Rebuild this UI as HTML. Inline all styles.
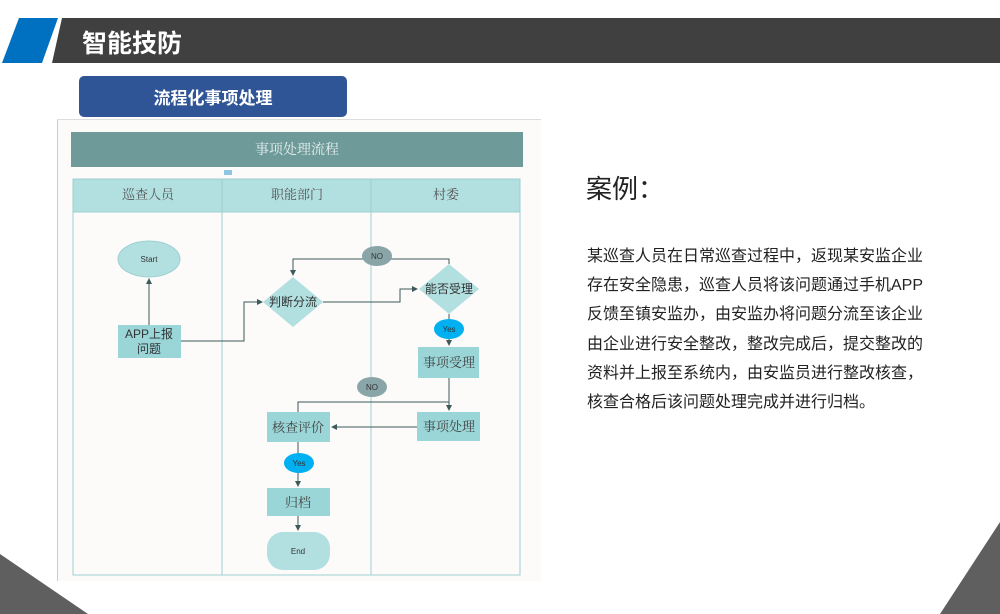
<!DOCTYPE html>
<html><head><meta charset="utf-8"><style>
html,body{margin:0;padding:0;background:#fff;}
body{width:1000px;height:614px;position:relative;overflow:hidden;font-family:"Liberation Sans","Noto Sans CJK SC",sans-serif;}
.t{position:absolute;left:587px;font-size:16px;color:#222;white-space:nowrap;line-height:29.2px;top:242px;}
</style></head><body>
<svg width="1000" height="614" style="position:absolute;left:0;top:0" xmlns="http://www.w3.org/2000/svg">
<defs><marker id="a" markerWidth="6" markerHeight="6" refX="5" refY="3" orient="auto"><path d="M0,0 L6,3 L0,6z" fill="#3d5a5a"/></marker></defs>
<polygon points="19,18 58,18 42,63 2,63" fill="#0070c0"/>
<polygon points="62,18 1000,18 1000,63 52,63" fill="#404040"/>
<text x="82" y="52" font-size="25" font-weight="bold" fill="#fff" font-family="Liberation Sans,Noto Sans CJK SC,sans-serif">智能技防</text>
<rect x="79" y="76" width="268" height="41" rx="5" fill="#2f5597"/>
<text x="213" y="104" font-size="17" font-weight="bold" fill="#fff" text-anchor="middle" font-family="Liberation Sans,Noto Sans CJK SC,sans-serif">流程化事项处理</text>
<polygon points="0,554 88,614 0,614" fill="#5f5f5f"/>
<polygon points="1000,522 1000,614 940,614" fill="#5f5f5f"/>
<rect x="57" y="119" width="484" height="462" fill="#fcfbfa"/>
<line x1="57.5" y1="119" x2="57.5" y2="581" stroke="#ccc"/>
<line x1="57" y1="119.5" x2="541" y2="119.5" stroke="#ddd"/>
<rect x="71" y="132" width="452" height="35" fill="#6e9a99"/>
<text x="297" y="154" font-size="14" fill="#e8f0f0" text-anchor="middle" font-family="Liberation Serif,Noto Serif CJK SC,serif">事项处理流程</text>
<rect x="224" y="170" width="8" height="5" fill="#8ec6e6"/>
<rect x="73" y="179" width="447" height="33" fill="#b2dfe0"/>
<rect x="73" y="179" width="447" height="396" fill="none" stroke="#9fcfd0"/>
<line x1="73" y1="212" x2="520" y2="212" stroke="#9fcfd0"/>
<line x1="222" y1="179" x2="222" y2="575" stroke="#9fcfd0"/>
<line x1="371" y1="179" x2="371" y2="575" stroke="#9fcfd0"/>
<g font-family="Liberation Serif,Noto Serif CJK SC,serif" font-size="13" fill="#555" text-anchor="middle">
<text x="148" y="199">巡查人员</text><text x="297" y="199">职能部门</text><text x="446" y="199">村委</text></g>
<g stroke="#3d5a5a" stroke-width="1" fill="none">
<line x1="149" y1="325" x2="149" y2="279" marker-end="url(#a)"/>
<polyline points="181,341 244,341 244,302 262,302" marker-end="url(#a)"/>
<polyline points="323,302 400,302 400,289 417,289" marker-end="url(#a)"/>
<polyline points="449,264 449,259 293,259 293,275" marker-end="url(#a)"/>
<line x1="449" y1="314" x2="449" y2="345" marker-end="url(#a)"/>
<line x1="449" y1="378" x2="449" y2="410" marker-end="url(#a)"/>
<polyline points="449,402 298,402 298,412"/>
<line x1="417" y1="427" x2="332" y2="427" marker-end="url(#a)"/>
<line x1="298" y1="442" x2="298" y2="486" marker-end="url(#a)"/>
<line x1="298" y1="516" x2="298" y2="530" marker-end="url(#a)"/>
</g>
<ellipse cx="149" cy="259" rx="31" ry="18" fill="#b2dfe0" stroke="#9fcfd0"/>
<rect x="118" y="325" width="63" height="33" fill="#9ad6d8"/>
<polygon points="293,277 323,302 293,327 263,302" fill="#b2dfe0"/>
<polygon points="449,264 479,289 449,314 419,289" fill="#b2dfe0"/>
<ellipse cx="377" cy="256" rx="15" ry="10" fill="#8aa5a8"/>
<ellipse cx="449" cy="329" rx="15" ry="10" fill="#00b0f0"/>
<rect x="418" y="347" width="61" height="31" fill="#9ad6d8"/>
<ellipse cx="372" cy="387" rx="15" ry="10" fill="#8aa5a8"/>
<rect x="417" y="412" width="63" height="29" fill="#9ad6d8"/>
<rect x="267" y="412" width="63" height="30" fill="#9ad6d8"/>
<ellipse cx="299" cy="463" rx="15" ry="10" fill="#00b0f0"/>
<rect x="267" y="488" width="63" height="28" fill="#9ad6d8"/>
<rect x="267" y="532" width="63" height="38" rx="16" fill="#b2dfe0"/>
<g font-family="Liberation Sans,Noto Sans CJK SC,sans-serif" text-anchor="middle" fill="#333">
<text x="149" y="262" font-size="8">Start</text>
<text x="149" y="338" font-size="12">APP上报</text><text x="149" y="353" font-size="12">问题</text>
<text x="293" y="306" font-size="12">判断分流</text>
<text x="449" y="293" font-size="12">能否受理</text>
<text x="377" y="259" font-size="8">NO</text>
<text x="449" y="332" font-size="8">Yes</text>
<text x="372" y="390" font-size="8">NO</text>
<text x="299" y="466" font-size="8">Yes</text>
<text x="298" y="554" font-size="8">End</text>
</g>
<g font-family="Liberation Serif,Noto Serif CJK SC,serif" text-anchor="middle" fill="#444" font-size="13">
<text x="449" y="367">事项受理</text>
<text x="449" y="431">事项处理</text>
<text x="298" y="432">核查评价</text>
<text x="298" y="507">归档</text>
</g>
<text x="586" y="198" font-size="26" fill="#222" font-family="Liberation Sans,Noto Sans CJK SC,sans-serif">案例：</text>
</svg>
<div class="t">某巡查人员在日常巡查过程中，返现某安监企业<br>存在安全隐患，巡查人员将该问题通过手机APP<br>反馈至镇安监办，由安监办将问题分流至该企业<br>由企业进行安全整改，整改完成后，提交整改的<br>资料并上报至系统内，由安监员进行整改核查，<br>核查合格后该问题处理完成并进行归档。</div>
</body></html>
